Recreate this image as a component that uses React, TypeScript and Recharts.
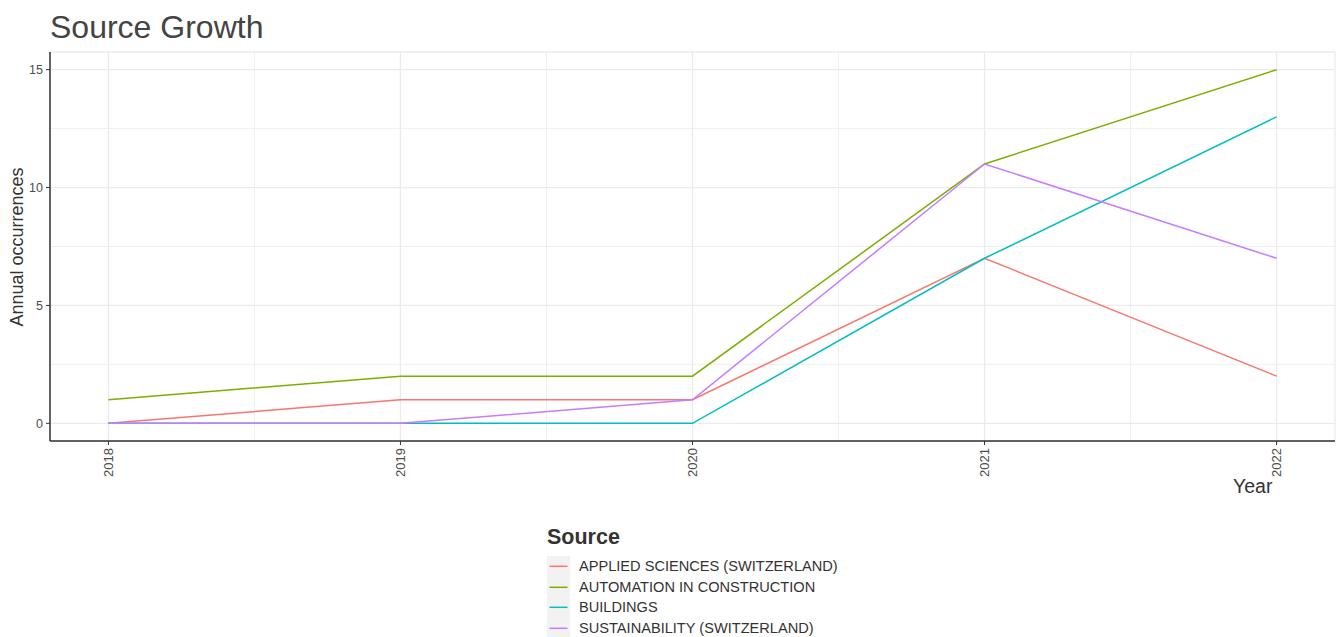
import { CartesianGrid, Line, LineChart, ReferenceLine, XAxis, YAxis } from 'recharts'

const YEARS = [2018, 2019, 2020, 2021, 2022]
const Y_TICKS = [0, 5, 10, 15]
const X_MINOR = [2018.5, 2019.5, 2020.5, 2021.5]
const Y_MINOR = [2.5, 7.5, 12.5]

const APPLIED_SCIENCES = [0, 1, 1, 7, 2]
const AUTOMATION = [1, 2, 2, 11, 15]
const BUILDINGS = [0, 0, 0, 7, 13]
const SUSTAINABILITY = [0, 0, 1, 11, 7]

const SERIES = [
  { key: 'applied', name: 'APPLIED SCIENCES (SWITZERLAND)', values: APPLIED_SCIENCES, color: '#F8766D' },
  { key: 'automation', name: 'AUTOMATION IN CONSTRUCTION', values: AUTOMATION, color: '#7CAE00' },
  { key: 'buildings', name: 'BUILDINGS', values: BUILDINGS, color: '#00BFC4' },
  { key: 'sustainability', name: 'SUSTAINABILITY (SWITZERLAND)', values: SUSTAINABILITY, color: '#C77CFF' },
]

const data = YEARS.map((year, i) => {
  const row: Record<string, number> = { year }
  SERIES.forEach((s) => {
    row[s.key] = s.values[i]
  })
  return row
})

const FONT = '"Liberation Sans", Arial, sans-serif'
const GRID = '#EBEBEB'

function XTick({ x, y, payload }: any) {
  return (
    <g transform={`translate(${x},${y})`}>
      <text
        transform="rotate(-90)"
        x={0}
        y={0}
        dy="0.36em"
        textAnchor="end"
        fontSize={13}
        fill="#4D4D4D"
        fontFamily={FONT}
      >
        {payload.value}
      </text>
    </g>
  )
}

export default function App() {
  return (
    <div style={{ position: 'relative', width: 1340, height: 637, background: '#fff', fontFamily: FONT }}>
      <style>{'body{margin:0}'}</style>
      <div style={{ position: 'absolute', left: 50, top: 9, fontSize: 32, color: '#444' }}>
        Source Growth
      </div>
      <div
        style={{
          position: 'absolute',
          left: 17,
          top: 247,
          transform: 'translate(-50%,-50%) rotate(-90deg)',
          fontSize: 18,
          color: '#333',
          whiteSpace: 'nowrap',
        }}
      >
        Annual occurrences
      </div>
      <div style={{ position: 'absolute', left: 1233, top: 475, fontSize: 19.5, color: '#333' }}>Year</div>

      <LineChart
        width={1340}
        height={637}
        data={data}
        margin={{ top: 52, right: 5, bottom: 156, left: 0 }}
        style={{ position: 'absolute', left: 0, top: 0 }}
      >
        {X_MINOR.map((v) => (
          <ReferenceLine key={`x${v}`} x={v} stroke={GRID} strokeWidth={0.8} />
        ))}
        {Y_MINOR.map((v) => (
          <ReferenceLine key={`y${v}`} y={v} stroke={GRID} strokeWidth={0.8} />
        ))}
        <CartesianGrid stroke={GRID} strokeWidth={1.3} />
        <XAxis
          dataKey="year"
          type="number"
          domain={[2017.8, 2022.2]}
          ticks={YEARS}
          height={40}
          tickSize={4}
          tickMargin={3}
          tick={<XTick />}
          axisLine={{ stroke: '#333', strokeWidth: 1.5 }}
          tickLine={{ stroke: '#333' }}
          allowDataOverflow
        />
        <YAxis
          type="number"
          domain={[-0.75, 15.75]}
          ticks={Y_TICKS}
          width={50}
          tickSize={4}
          tickMargin={3}
          tick={{ fontSize: 12.5, fill: '#4D4D4D', fontFamily: FONT }}
          axisLine={{ stroke: '#333', strokeWidth: 1.5 }}
          tickLine={{ stroke: '#333' }}
          allowDataOverflow
        />
        {SERIES.map((s) => (
          <Line
            key={s.key}
            type="linear"
            dataKey={s.key}
            name={s.name}
            stroke={s.color}
            strokeWidth={1.5}
            dot={false}
            isAnimationActive={false}
          />
        ))}
      </LineChart>

      <div style={{ position: 'absolute', left: 547, top: 525 }}>
        <div style={{ fontSize: 21.5, fontWeight: 'bold', color: '#333', marginBottom: 6 }}>Source</div>
        {SERIES.map((s) => (
          <div key={s.key} style={{ display: 'flex', alignItems: 'center', height: 20.6 }}>
            <svg width={23} height={20.6} style={{ background: '#F2F2F2', display: 'block' }}>
              <line x1={2.5} x2={20.5} y1={10.3} y2={10.3} stroke={s.color} strokeWidth={1.5} />
            </svg>
            <span style={{ marginLeft: 9, fontSize: 14.6, color: '#333' }}>{s.name}</span>
          </div>
        ))}
      </div>
    </div>
  )
}
